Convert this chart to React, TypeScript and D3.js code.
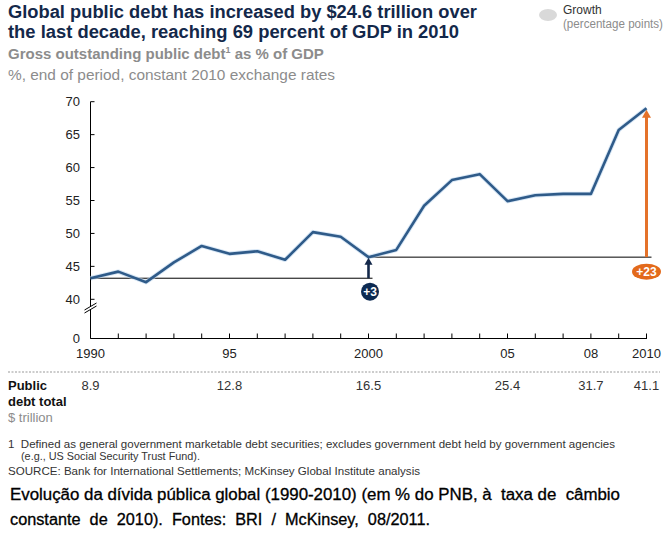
import * as d3 from 'd3'

// Gross public debt, % of GDP, end of period
const years = [1990, 1991, 1992, 1993, 1994, 1995, 1996, 1997, 1998, 1999, 2000,
  2001, 2002, 2003, 2004, 2005, 2006, 2007, 2008, 2009, 2010]
const debtPct = [43.2, 44.2, 42.6, 45.6, 48.1, 46.9, 47.3, 46.0, 50.2, 49.5, 46.4,
  47.5, 54.2, 58.1, 59.0, 54.9, 55.8, 56.0, 56.0, 65.7, 69.0]

const yTicks = [40, 45, 50, 55, 60, 65, 70]
const xLabelYears = [1990, 1995, 2000, 2005, 2008, 2010]
const xLabels = ['1990', '95', '2000', '05', '08', '2010']
// Public debt total, $ trillion
const debtTotals = ['8.9', '12.8', '16.5', '25.4', '31.7', '41.1']

const growthFrom = 1990
const growthMid = 2000
const growthTo = 2010

const NAVY = '#13284a'
const LINE = '#2f5b89'
const ORANGE = '#e4722a'
const GREY = '#8c8c8c'
const FONT = 'Liberation Sans, Arial, sans-serif'

export default function App() {
  const width = 670
  const height = 546

  const x = d3.scaleLinear().domain([1990, 2010]).range([90.5, 646.5])
  // broken axis: 0 sits under the 40-70 band
  const y = d3.scaleLinear().domain([0, 40, 70]).range([338.5, 299.3, 101.7])

  const line = d3
    .line<number>()
    .x((_, i) => x(years[i]))
    .y((d) => y(d))

  const v0 = debtPct[years.indexOf(growthFrom)]
  const v1 = debtPct[years.indexOf(growthMid)]
  const v2 = debtPct[years.indexOf(growthTo)]
  const d1 = Math.round(v1 - v0)
  const d2 = Math.round(v2 - v1)

  const axisY = y(0)
  const axisX = x(1990)

  const arrowHead = (cx: number, tipY: number, w: number, h: number) =>
    `M${cx},${tipY} L${cx - w / 2},${tipY + h} L${cx + w / 2},${tipY + h} Z`

  return (
    <svg
      width={width}
      height={height}
      style={{ position: 'absolute', left: 0, top: 0, background: '#fff' }}
      fontFamily={FONT}
    >
      {/* header */}
      <text x={8} y={17.5} fontSize={18} fontWeight="bold" fill={NAVY}
        textLength={469} lengthAdjust="spacingAndGlyphs">
        Global public debt has increased by $24.6 trillion over
      </text>
      <text x={8} y={37.5} fontSize={18} fontWeight="bold" fill={NAVY}
        textLength={451} lengthAdjust="spacingAndGlyphs">
        the last decade, reaching 69 percent of GDP in 2010
      </text>
      <text x={8} y={59} fontSize={15} fontWeight="bold" fill={GREY}>
        Gross outstanding public debt
        <tspan fontSize={9} dy={-6}>1</tspan>
        <tspan dy={6}> as % of GDP</tspan>
      </text>
      <text x={8} y={79.5} fontSize={14} fill={GREY}
        textLength={327} lengthAdjust="spacingAndGlyphs">
        %, end of period, constant 2010 exchange rates
      </text>

      {/* legend */}
      <ellipse cx={548} cy={15} rx={9} ry={6} fill="#d9d9d9" />
      <text x={563} y={14} fontSize={12} fill="#333">Growth</text>
      <text x={563} y={27.5} fontSize={12} fill={GREY}
        textLength={100} lengthAdjust="spacingAndGlyphs">
        (percentage points)
      </text>

      {/* y axis */}
      <line x1={axisX} x2={axisX} y1={y(70)} y2={axisY} stroke="#000" />
      {yTicks.map((t) => (
        <g key={t}>
          <line x1={axisX} x2={axisX + 4} y1={y(t)} y2={y(t)} stroke="#000" />
          <text x={80} y={y(t)} dy="0.35em" textAnchor="end" fontSize={13} fill="#222">
            {t}
          </text>
        </g>
      ))}
      <text x={80} y={axisY} dy="0.35em" textAnchor="end" fontSize={13} fill="#222">0</text>
      {/* axis break */}
      <path d={`M${axisX - 6},${313} L${axisX + 6},${306} L${axisX + 6},${303} L${axisX - 6},${310} Z`} fill="#fff" />
      <line x1={axisX - 6} x2={axisX + 6} y1={313} y2={306} stroke="#000" />
      <line x1={axisX - 6} x2={axisX + 6} y1={310} y2={303} stroke="#000" />

      {/* x axis */}
      <line x1={axisX} x2={x(2010) + 0.5} y1={axisY} y2={axisY} stroke="#000" />
      {years.map((yr) => (
        <line key={yr} x1={x(yr)} x2={x(yr)} y1={axisY} y2={axisY - 5} stroke="#000" />
      ))}
      {xLabelYears.map((yr, i) => (
        <text key={yr} x={x(yr)} y={358} textAnchor="middle" fontSize={13} fill="#222">
          {xLabels[i]}
        </text>
      ))}

      {/* reference levels */}
      <line x1={x(growthFrom)} x2={x(growthMid) + 4} y1={y(v0)} y2={y(v0)} stroke="#000" />
      <line x1={x(growthMid)} x2={x(growthTo) + 5} y1={y(v1)} y2={y(v1)} stroke="#000" />

      {/* series */}
      <path d={line(debtPct) ?? ''} fill="none" stroke="#bcd5ee" strokeWidth={4.5}
        strokeLinejoin="round" opacity={0.6} />
      <path d={line(debtPct) ?? ''} fill="none" stroke={LINE} strokeWidth={2.6}
        strokeLinejoin="round" />

      {/* growth arrows */}
      <line x1={x(growthMid)} x2={x(growthMid)} y1={y(v0)} y2={y(v1) + 5} stroke={NAVY} strokeWidth={2.6} />
      <path d={arrowHead(x(growthMid), y(v1) + 0.5, 8, 7)} fill={NAVY} />
      <circle cx={x(growthMid) + 1.5} cy={291.7} r={9} fill="#0c2a52" />
      <text x={x(growthMid) + 1.5} y={291.7} dy="0.36em" textAnchor="middle" fontSize={12}
        fontWeight="bold" fill="#fff">
        {`+${d1}`}
      </text>

      <line x1={x(growthTo)} x2={x(growthTo)} y1={y(v1)} y2={y(v2) + 6} stroke={ORANGE} strokeWidth={3} />
      <path d={arrowHead(x(growthTo), y(v2) + 1.5, 9, 8)} fill={ORANGE} />
      <ellipse cx={x(growthTo)} cy={271.7} rx={14.5} ry={8} fill="#e36a1b" />
      <text x={x(growthTo)} y={271.7} dy="0.36em" textAnchor="middle" fontSize={12}
        fontWeight="bold" fill="#fff">
        {`+${d2}`}
      </text>

      {/* debt totals row */}
      <line x1={8} x2={660} y1={372} y2={372} stroke="#999" strokeDasharray="2,1.5" />
      <text x={8} y={389.5} fontSize={13} fontWeight="bold" fill="#111">Public</text>
      <text x={8} y={405.5} fontSize={13} fontWeight="bold" fill="#111">debt total</text>
      <text x={8} y={422} fontSize={13} fill={GREY}>$ trillion</text>
      {xLabelYears.map((yr, i) => (
        <text key={yr} x={x(yr)} y={389.5} textAnchor="middle" fontSize={13} fill="#333">
          {debtTotals[i]}
        </text>
      ))}

      {/* notes */}
      <text x={8} y={447.5} fontSize={11} fill="#333" textLength={607} lengthAdjust="spacingAndGlyphs"
        style={{ whiteSpace: 'pre' }}>
        1  Defined as general government marketable debt securities; excludes government debt held by government agencies
      </text>
      <text x={21} y={460} fontSize={11} fill="#333" textLength={179} lengthAdjust="spacingAndGlyphs">
        (e.g., US Social Security Trust Fund).
      </text>
      <text x={8} y={475} fontSize={11} fill="#333" textLength={412} lengthAdjust="spacingAndGlyphs">
        SOURCE: Bank for International Settlements; McKinsey Global Institute analysis
      </text>

      {/* caption */}
      <text x={10} y={500} fontSize={16} fill="#000" stroke="#000" strokeWidth={0.3}
        textLength={610} lengthAdjust="spacingAndGlyphs" style={{ whiteSpace: 'pre' }}>
        Evolução da dívida pública global (1990-2010) (em % do PNB, à  taxa de  câmbio
      </text>
      <text x={10} y={525} fontSize={16} fill="#000" stroke="#000" strokeWidth={0.3}
        textLength={420} lengthAdjust="spacingAndGlyphs" style={{ whiteSpace: 'pre' }}>
        constante  de  2010).  Fontes:  BRI  /  McKinsey,  08/2011.
      </text>
    </svg>
  )
}
